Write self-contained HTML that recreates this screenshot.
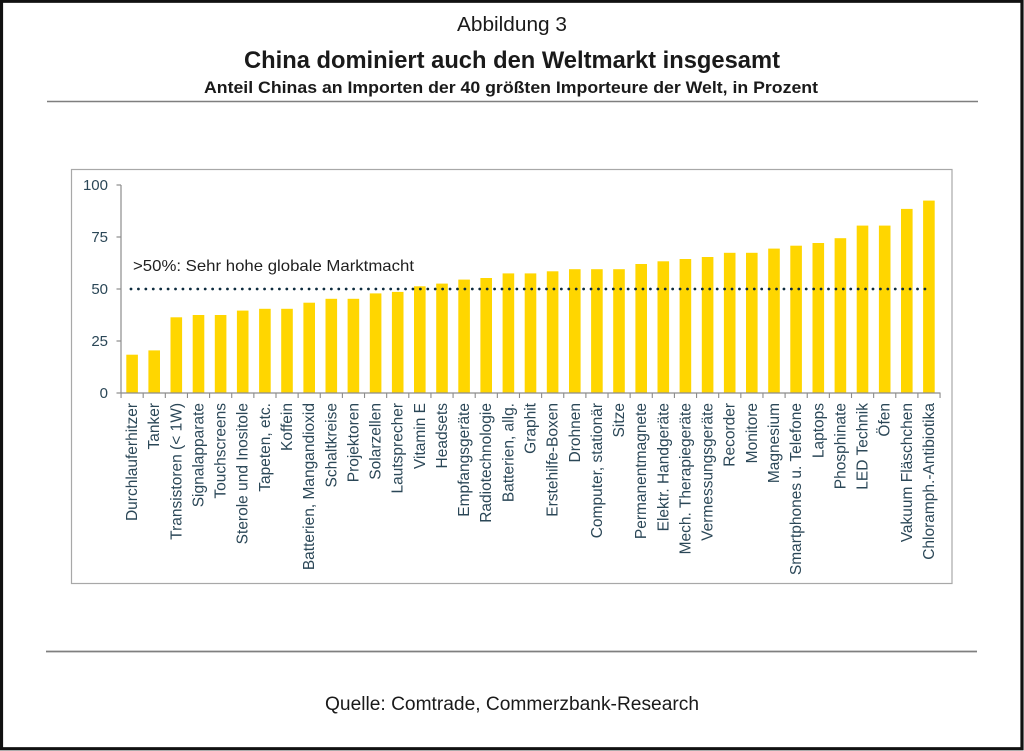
<!DOCTYPE html>
<html><head><meta charset="utf-8"><style>
html,body{margin:0;padding:0;background:#fff;}
svg{display:block;}
</style></head><body>
<svg width="1024" height="751" viewBox="0 0 1024 751" xmlns="http://www.w3.org/2000/svg">
<rect x="0" y="0" width="1024" height="751" fill="#fff"/>
<!-- outer black frame -->
<rect x="1.5" y="1.25" width="1020.5" height="747.5" fill="none" stroke="#111" stroke-width="3.2"/>
<!-- header -->
<g font-family="'Liberation Sans', Arial, sans-serif" fill="#1a1a1a" text-anchor="middle">
<text x="512" y="31" font-size="20.5" textLength="110" lengthAdjust="spacingAndGlyphs">Abbildung 3</text>
<text x="512" y="68" font-size="24" font-weight="bold" textLength="536" lengthAdjust="spacingAndGlyphs">China dominiert auch den Weltmarkt insgesamt</text>
<text x="511" y="93" font-size="16.5" font-weight="bold" textLength="614" lengthAdjust="spacingAndGlyphs">Anteil Chinas an Importen der 40 größten Importeure der Welt, in Prozent</text>
</g>
<line x1="47" y1="101.5" x2="978" y2="101.5" stroke="#7f7f7f" stroke-width="1.6"/>
<!-- chart frame -->
<rect x="71.5" y="169.5" width="880.5" height="414" fill="#fff" stroke="#a8a8a8" stroke-width="1.2"/>
<!-- bars -->
<g fill="#ffd600">
<rect x="126.3" y="354.7" width="11.6" height="38.3"/>
<rect x="148.4" y="350.4" width="11.6" height="42.6"/>
<rect x="170.5" y="317.3" width="11.6" height="75.7"/>
<rect x="192.7" y="315" width="11.6" height="78"/>
<rect x="214.8" y="315" width="11.6" height="78"/>
<rect x="236.9" y="310.6" width="11.6" height="82.4"/>
<rect x="259.1" y="308.8" width="11.6" height="84.2"/>
<rect x="281.2" y="308.8" width="11.6" height="84.2"/>
<rect x="303.4" y="302.7" width="11.6" height="90.3"/>
<rect x="325.5" y="298.8" width="11.6" height="94.2"/>
<rect x="347.6" y="298.8" width="11.6" height="94.2"/>
<rect x="369.8" y="293.4" width="11.6" height="99.6"/>
<rect x="391.9" y="291.9" width="11.6" height="101.1"/>
<rect x="414" y="286.3" width="11.6" height="106.7"/>
<rect x="436.2" y="283.6" width="11.6" height="109.4"/>
<rect x="458.3" y="279.6" width="11.6" height="113.4"/>
<rect x="480.4" y="278" width="11.6" height="115"/>
<rect x="502.6" y="273.4" width="11.6" height="119.6"/>
<rect x="524.7" y="273.4" width="11.6" height="119.6"/>
<rect x="546.8" y="271.3" width="11.6" height="121.7"/>
<rect x="569" y="269.2" width="11.6" height="123.8"/>
<rect x="591.1" y="269.2" width="11.6" height="123.8"/>
<rect x="613.2" y="269.2" width="11.6" height="123.8"/>
<rect x="635.4" y="264" width="11.6" height="129"/>
<rect x="657.5" y="261.3" width="11.6" height="131.7"/>
<rect x="679.6" y="259" width="11.6" height="134"/>
<rect x="701.8" y="257" width="11.6" height="136"/>
<rect x="723.9" y="252.8" width="11.6" height="140.2"/>
<rect x="746" y="252.8" width="11.6" height="140.2"/>
<rect x="768.2" y="248.6" width="11.6" height="144.4"/>
<rect x="790.3" y="245.7" width="11.6" height="147.3"/>
<rect x="812.5" y="243" width="11.6" height="150"/>
<rect x="834.6" y="238.2" width="11.6" height="154.8"/>
<rect x="856.7" y="225.6" width="11.6" height="167.4"/>
<rect x="878.9" y="225.6" width="11.6" height="167.4"/>
<rect x="901" y="208.9" width="11.6" height="184.1"/>
<rect x="923.1" y="200.6" width="11.6" height="192.4"/>
</g>
<!-- axes -->
<g stroke="#8c8c8c" stroke-width="1.2" fill="none">
<line x1="121" y1="185" x2="121" y2="393.5"/>
<line x1="120.5" y1="393" x2="940.5" y2="393"/>
<line x1="116.5" y1="185" x2="121" y2="185"/>
<line x1="116.5" y1="237" x2="121" y2="237"/>
<line x1="116.5" y1="289" x2="121" y2="289"/>
<line x1="116.5" y1="341" x2="121" y2="341"/>
<line x1="116.5" y1="393" x2="121" y2="393"/>
</g>
<line x1="120.5" y1="395.5" x2="942" y2="395.5" stroke="#8c8c8c" stroke-width="5" stroke-dasharray="1.1 21.035"/>
<!-- y labels -->
<g font-family="'Liberation Sans', Arial, sans-serif" font-size="15" fill="#2b4757" text-anchor="end">
<text x="108" y="190">100</text>
<text x="108" y="242">75</text>
<text x="108" y="294">50</text>
<text x="108" y="346">25</text>
<text x="108" y="398">0</text>
</g>
<!-- dotted threshold -->
<line x1="131" y1="289" x2="928" y2="289" stroke="#0d2b3e" stroke-width="2.8" stroke-linecap="round" stroke-dasharray="0 7.42"/>
<text x="133" y="271" font-family="'Liberation Sans', Arial, sans-serif" font-size="16" fill="#1f1f1f" textLength="281" lengthAdjust="spacingAndGlyphs">&gt;50%: Sehr hohe globale Marktmacht</text>
<!-- x labels -->
<g font-family="'Liberation Sans', Arial, sans-serif" font-size="15.5" fill="#2b4757" text-anchor="end">
<text transform="translate(137.1,403) rotate(-90)">Durchlauferhitzer</text>
<text transform="translate(159.2,403) rotate(-90)">Tanker</text>
<text transform="translate(181.3,403) rotate(-90)">Transistoren (&lt; 1W)</text>
<text transform="translate(203.5,403) rotate(-90)">Signalapparate</text>
<text transform="translate(225.6,403) rotate(-90)">Touchscreens</text>
<text transform="translate(247.7,403) rotate(-90)">Sterole und Inositole</text>
<text transform="translate(269.9,403) rotate(-90)">Tapeten, etc.</text>
<text transform="translate(292,403) rotate(-90)">Koffein</text>
<text transform="translate(314.2,403) rotate(-90)">Batterien, Mangandioxid</text>
<text transform="translate(336.3,403) rotate(-90)">Schaltkreise</text>
<text transform="translate(358.4,403) rotate(-90)">Projektoren</text>
<text transform="translate(380.6,403) rotate(-90)">Solarzellen</text>
<text transform="translate(402.7,403) rotate(-90)">Lautsprecher</text>
<text transform="translate(424.8,403) rotate(-90)">Vitamin E</text>
<text transform="translate(447,403) rotate(-90)">Headsets</text>
<text transform="translate(469.1,403) rotate(-90)">Empfangsgeräte</text>
<text transform="translate(491.2,403) rotate(-90)">Radiotechnologie</text>
<text transform="translate(513.4,403) rotate(-90)">Batterien, allg.</text>
<text transform="translate(535.5,403) rotate(-90)">Graphit</text>
<text transform="translate(557.6,403) rotate(-90)">Erstehilfe-Boxen</text>
<text transform="translate(579.8,403) rotate(-90)">Drohnen</text>
<text transform="translate(601.9,403) rotate(-90)">Computer, stationär</text>
<text transform="translate(624,403) rotate(-90)">Sitze</text>
<text transform="translate(646.2,403) rotate(-90)">Permanentmagnete</text>
<text transform="translate(668.3,403) rotate(-90)">Elektr. Handgeräte</text>
<text transform="translate(690.4,403) rotate(-90)">Mech. Therapiegeräte</text>
<text transform="translate(712.6,403) rotate(-90)">Vermessungsgeräte</text>
<text transform="translate(734.7,403) rotate(-90)">Recorder</text>
<text transform="translate(756.9,403) rotate(-90)">Monitore</text>
<text transform="translate(779,403) rotate(-90)">Magnesium</text>
<text transform="translate(801.1,403) rotate(-90)">Smartphones u. Telefone</text>
<text transform="translate(823.3,403) rotate(-90)">Laptops</text>
<text transform="translate(845.4,403) rotate(-90)">Phosphinate</text>
<text transform="translate(867.5,403) rotate(-90)">LED Technik</text>
<text transform="translate(889.7,403) rotate(-90)">Öfen</text>
<text transform="translate(911.8,403) rotate(-90)">Vakuum Fläschchen</text>
<text transform="translate(933.9,403) rotate(-90)">Chloramph.-Antibiotika</text>
</g>
<!-- footer -->
<line x1="46" y1="651.5" x2="977" y2="651.5" stroke="#7f7f7f" stroke-width="1.8"/>
<text x="512" y="710" font-family="'Liberation Sans', Arial, sans-serif" font-size="19" fill="#1a1a1a" text-anchor="middle" textLength="374" lengthAdjust="spacingAndGlyphs">Quelle: Comtrade, Commerzbank-Research</text>
</svg>
</body></html>
